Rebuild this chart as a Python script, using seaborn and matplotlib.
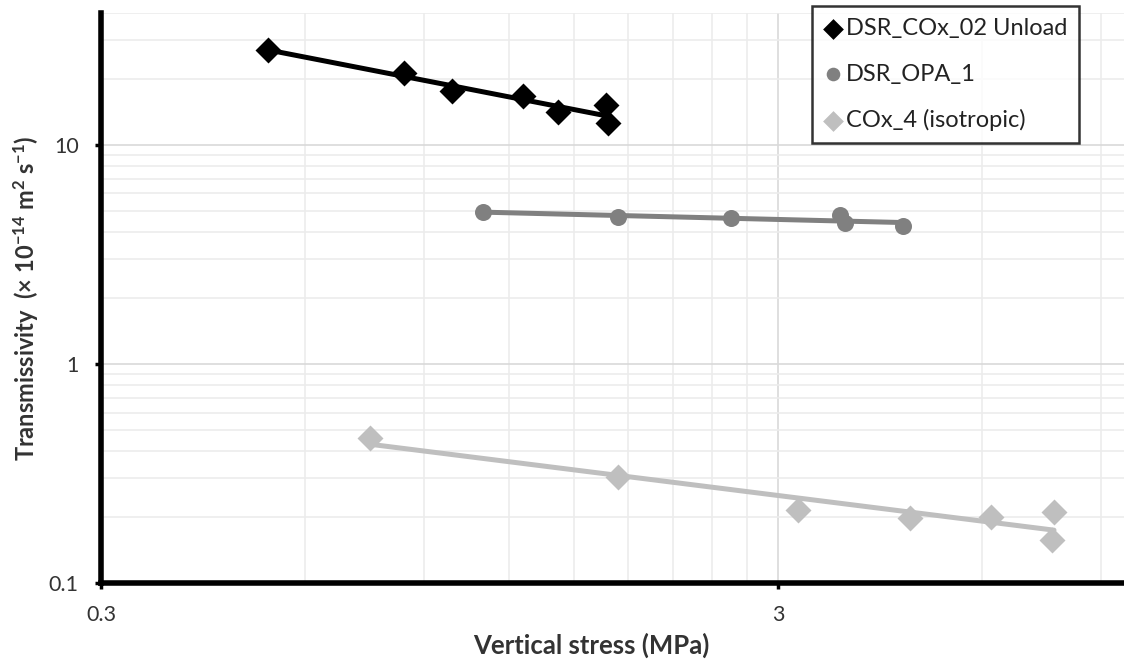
import numpy as np
import pandas as pd
import matplotlib
matplotlib.use("Agg")
from matplotlib import pyplot as plt
from matplotlib.ticker import FixedLocator, NullFormatter, LogLocator
import seaborn as sns

# Data (vertical stress MPa, transmissivity x1e-14 m2/s)
cox02_stress = [0.53, 0.84, 0.99, 1.26, 1.42, 1.67, 1.68]
cox02_trans = [27.2, 21.3, 17.6, 16.7, 14.1, 15.2, 12.6]

opa1_stress = [1.10, 1.74, 2.56, 3.70, 3.77, 4.59]
opa1_trans = [4.94, 4.69, 4.64, 4.79, 4.40, 4.27]

cox4_stress = [0.75, 1.74, 3.21, 4.70, 6.19, 7.67, 7.62]
cox4_trans = [0.459, 0.305, 0.2155, 0.198, 0.200, 0.211, 0.157]

names = ["DSR_COx_02 Unload", "DSR_OPA_1", "COx_4 (isotropic)"]
colors = ["#000000", "#808080", "#bfbfbf"]
markers = ["D", "o", "D"]

series = [(cox02_stress, cox02_trans), (opa1_stress, opa1_trans), (cox4_stress, cox4_trans)]

sns.set_theme(style="white")
plt.rcParams['font.family'] = ['Lato', 'DejaVu Sans']
plt.rcParams['mathtext.fontset'] = 'custom'
plt.rcParams['mathtext.rm'] = 'Lato:bold'
plt.rcParams['mathtext.default'] = 'rm'

fig = plt.figure(figsize=(11.24, 6.65), dpi=100)
ax = fig.add_axes([101 / 1124, 82 / 665, 1 - 101 / 1124, 570 / 665])
ax.set_xscale("log")
ax.set_yscale("log")

# power-law trend lines (like Excel's power trendline)
for (xs, ys), c in zip(series, colors):
    k, b = np.polyfit(np.log10(xs), np.log10(ys), 1)
    xe = np.array([min(xs), max(xs)])
    line = pd.DataFrame({"x": xe, "y": 10 ** (b + k * np.log10(xe))})
    sns.lineplot(data=line, x="x", y="y", color=c, lw=3.6, ax=ax, zorder=3)

for (xs, ys), name, c, m in zip(series, names, colors, markers):
    df = pd.DataFrame({"x": xs, "y": ys})
    sns.scatterplot(data=df, x="x", y="y", color=c, marker=m, s=150 if m == "o" else 175,
                    edgecolor=c, linewidth=0, ax=ax, label=name, zorder=4)

ax.set_xlim(0.3, 0.3 * 10 ** ((1124 - 101) / 677))
ax.set_ylim(0.1, 40)

# gridlines
ax.xaxis.set_major_locator(FixedLocator([0.3, 3]))
ax.xaxis.set_minor_locator(FixedLocator([0.6, 0.9, 1.2, 1.5, 1.8, 2.1, 2.4, 2.7, 6, 9]))
ax.yaxis.set_major_locator(FixedLocator([0.1, 1, 10]))
ax.yaxis.set_minor_locator(LogLocator(base=10, subs=np.arange(2, 10), numticks=20))
ax.xaxis.set_minor_formatter(NullFormatter())
ax.yaxis.set_minor_formatter(NullFormatter())
ax.set_xticklabels(["0.3", "3"])
ax.set_yticklabels(["0.1", "1", "10"])
ax.grid(which="major", color="#d9d9d9", lw=1.2)
ax.grid(which="minor", color="#ececec", lw=1.2)
ax.set_axisbelow(True)

for sp in ["top", "right"]:
    ax.spines[sp].set_visible(False)
for sp in ["left", "bottom"]:
    ax.spines[sp].set_color("black")
    ax.spines[sp].set_linewidth(4)

ax.tick_params(which="major", direction="out", length=4, width=2.5, color="black",
               labelsize=15.5, labelcolor="#333333", pad=12, left=True, bottom=True)
ax.tick_params(which="minor", length=0)

ax.set_xlabel("")
ax.set_ylabel("")
fig.text(591 / 1124, 1 - 645 / 665, "Vertical stress (MPa)", ha="center", va="center",
         fontsize=18.5, fontweight="bold", color="#333333")
fig.text(26 / 1124, 1 - 298 / 665,
         r"Transmissivity  (× 10$^{-14}$ m$^{2}$ s$^{-1}$)", ha="center", va="center",
         rotation=90, fontsize=17, fontweight="bold", color="#333333")

leg = ax.legend(loc="upper left", bbox_to_anchor=((812 - 101) / 1023, 1 + 7 / 570),
                borderaxespad=0, frameon=True, fancybox=False, fontsize=17,
                handletextpad=0.15, labelspacing=1.05, borderpad=0.5, markerscale=0.8,
                handlelength=0.8)
leg.get_frame().set_edgecolor("black")
leg.get_frame().set_linewidth(1.8)
for t in leg.get_texts():
    t.set_color("#222222")

fig.savefig("out.png", dpi=100)
